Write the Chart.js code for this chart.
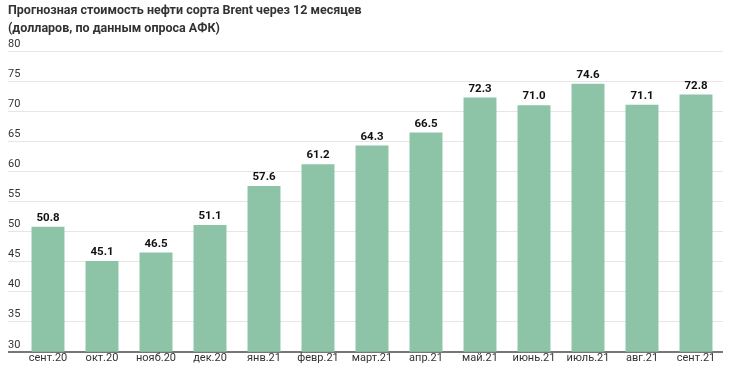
<!DOCTYPE html>
<html><head><meta charset="utf-8">
<script src="https://cdn.jsdelivr.net/npm/chart.js@4/dist/chart.umd.min.js"></script>
<style>html,body{margin:0;padding:0;background:#fff}#wrap{width:730px;height:375px;position:relative}</style>
</head><body>
<div id="wrap"><canvas id="c"></canvas></div>
<script>
const categories = ['сент.20','окт.20','нояб.20','дек.20','янв.21','февр.21','март.21','апр.21','май.21','июнь.21','июль.21','авг.21','сент.21'];
const values = [50.8, 45.1, 46.5, 51.1, 57.6, 61.2, 64.3, 66.5, 72.3, 71.0, 74.6, 71.1, 72.8];
const titleLines = ['Прогнозная стоимость нефти сорта Brent через 12 месяцев','(долларов, по данным опроса АФК)'];
const yMin = 30, yMax = 80, yStep = 5;

const valueLabels = {
  id: 'valueLabels',
  afterDatasetsDraw(chart) {
    const ctx = chart.ctx;
    const meta = chart.getDatasetMeta(0);
    ctx.save();
    ctx.font = 'bold 11.5px Roboto';
    ctx.fillStyle = '#111';
    ctx.textAlign = 'center';
    ctx.textBaseline = 'bottom';
    meta.data.forEach((bar, i) => {
      ctx.fillText(values[i].toFixed(1), bar.x, bar.y - 3);
    });
    ctx.restore();
  }
};

new Chart(document.getElementById('c'), {
  type: 'bar',
  data: { labels: categories, datasets: [{ data: values, backgroundColor: '#8dc3a7', barPercentage: 0.61, categoryPercentage: 1 }] },
  options: {
    responsive: true, maintainAspectRatio: false, animation: false,
    layout: { padding: { left: 8, right: 7, top: 0, bottom: 10 } },
    plugins: {
      legend: { display: false }, tooltip: { enabled: false },
      title: { display: true, text: titleLines, align: 'start', color: '#333', font: { family: 'Roboto', size: 12.5, weight: 'bold', lineHeight: 1.45 }, padding: { top: 2, bottom: 13 } }
    },
    scales: {
      x: {
        grid: { display: false, drawTicks: false },
        border: { display: false },
        ticks: { color: '#333', font: { family: 'Roboto', size: 11 }, padding: 0, maxRotation: 0, autoSkip: false }
      },
      y: {
        min: yMin, max: yMax,
        afterFit(scale) { scale.width = 13; },
        border: { display: false },
        grid: { color: c => c.tick && c.tick.value === yMin ? '#777' : '#e6e6e6', lineWidth: c => c.tick && c.tick.value === yMin ? 2 : 1, tickLength: 13, drawTicks: true },
        ticks: { stepSize: yStep, crossAlign: 'far', labelOffset: -7, padding: 0, color: '#333', font: { family: 'Roboto', size: 11 } }
      }
    }
  },
  plugins: [valueLabels]
});
</script>
</body></html>
